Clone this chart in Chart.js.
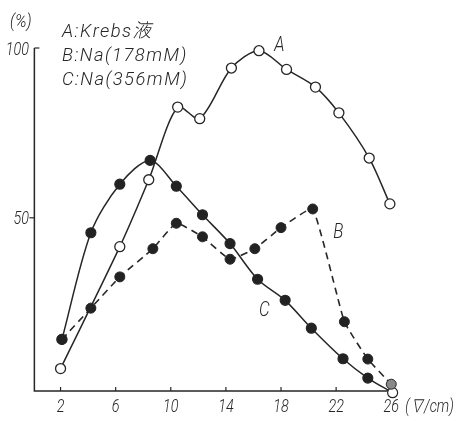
<!DOCTYPE html>
<html>
<head>
<meta charset="utf-8">
<script src="https://cdn.jsdelivr.net/npm/chart.js@4"></script>
<style>
  body { margin: 0; background: #fff; }
  canvas { display: block; }
</style>
</head>
<body>
<canvas id="chart" width="459" height="421"></canvas>
<script>
// A: Krebs, B: Na 178mM, C: Na 356mM
const xA = [2, 6.3, 8.4, 10.5, 12.1, 14.4, 16.4, 18.4, 20.5, 22.2, 24.4, 25.9];
const yA = [5.6, 41.5, 61.2, 82.6, 79.2, 94.1, 99.2, 93.7, 88.5, 80.9, 67.6, 54.1];
const xB = [2.1, 4.2, 6.3, 8.7, 10.4, 12.3, 14.3, 16.1, 18.0, 20.3, 22.6, 24.3, 26.0];
const yB = [14.2, 23.4, 32.6, 40.9, 48.4, 44.4, 37.8, 40.9, 47.1, 52.6, 19.4, 8.4, 1.0];
const xC = [2.1, 4.2, 6.3, 8.5, 10.4, 12.3, 14.3, 16.3, 18.3, 20.2, 22.5, 24.3, 26.1];
const yC = [14.2, 45.6, 59.9, 66.9, 59.3, 50.9, 42.4, 31.9, 25.7, 17.5, 8.5, 2.8, -1.5];
const xTicks = [2, 6, 10, 14, 18, 22, 26];
const yTicks = [50, 100];
const legendLines = ["A:Krebs液", "B:Na(178mM)", "C:Na(356mM)"];

const ink = "#262626";
const fontFam = "Roboto, 'Noto Sans CJK JP', sans-serif";

function pts(xs, ys) {
  return xs.map((x, i) => ({ x: x, y: ys[i] }));
}

// draw text squeezed a bit horizontally, like the printed figure
function txt(ctx, s, x, y, size, align, squeeze, spacing) {
  ctx.save();
  ctx.font = "italic 300 " + size + "px " + fontFam;
  ctx.fillStyle = ink;
  ctx.textBaseline = "middle";
  ctx.textAlign = align || "left";
  if (spacing) ctx.letterSpacing = spacing;
  ctx.translate(x, y);
  ctx.scale(squeeze || 0.85, 1);
  ctx.fillText(s, 0, 0);
  ctx.restore();
}

const axesPlugin = {
  id: "handAxes",
  beforeDatasetsDraw(chart) {
    const ctx = chart.ctx;
    const xs = chart.scales.x, ys = chart.scales.y;
    const x0 = xs.getPixelForValue(0.1);
    const y0 = ys.getPixelForValue(-1);
    ctx.save();
    ctx.strokeStyle = ink;
    ctx.lineWidth = 1.5;
    ctx.beginPath();
    ctx.moveTo(x0, ys.getPixelForValue(100));
    ctx.lineTo(x0, y0);
    ctx.lineTo(xs.getPixelForValue(26), y0);
    ctx.stroke();
    ctx.lineWidth = 1.2;
    xTicks.forEach(v => {
      const px = xs.getPixelForValue(v);
      ctx.beginPath();
      ctx.moveTo(px, y0);
      ctx.lineTo(px, y0 - 4);
      ctx.stroke();
    });
    // 100: tick to the right, 50: tick to the left
    let py = ys.getPixelForValue(100);
    ctx.beginPath();
    ctx.moveTo(x0, py);
    ctx.lineTo(x0 + 5, py);
    ctx.stroke();
    py = ys.getPixelForValue(50);
    ctx.beginPath();
    ctx.moveTo(x0, py);
    ctx.lineTo(x0 - 5, py);
    ctx.stroke();
    ctx.restore();
  },
  afterDraw(chart) {
    const ctx = chart.ctx;
    const xs = chart.scales.x, ys = chart.scales.y;
    const y0 = ys.getPixelForValue(-1);
    xTicks.forEach(v => {
      txt(ctx, String(v), xs.getPixelForValue(v), y0 + 16, 18, "center", 0.8);
    });
    txt(ctx, "(∇/cm)", xs.getPixelForValue(26) + 14, y0 + 16, 18, "left", 0.8);
    yTicks.forEach(v => {
      txt(ctx, String(v), 29, ys.getPixelForValue(v) + 2, 18, "right", 0.8);
    });
    txt(ctx, "(%)", 10, 22, 19, "left", 0.85);
    legendLines.forEach((s, i) => {
      txt(ctx, s, 62, 32 + i * 24, 19, "left", 0.97, "1.5px");
    });
    txt(ctx, "A", xs.getPixelForValue(17.5), ys.getPixelForValue(100.5), 20, "left", 0.85);
    txt(ctx, "B", xs.getPixelForValue(21.8), ys.getPixelForValue(45.5), 20, "left", 0.85);
    txt(ctx, "C", xs.getPixelForValue(16.4), ys.getPixelForValue(22.5), 20, "left", 0.85);
  }
};

const cLast = xC.length - 1;
const bLast = xB.length - 1;

new Chart(document.getElementById("chart"), {
  type: "scatter",
  data: {
    datasets: [
      {
        label: "A",
        data: pts(xA, yA),
        showLine: true,
        tension: 0.3,
        borderColor: ink,
        borderWidth: 1.5,
        pointRadius: 5,
        pointBorderWidth: 1.3,
        pointBackgroundColor: "#fff",
        pointBorderColor: ink
      },
      {
        label: "B",
        data: pts(xB, yB),
        showLine: true,
        tension: 0.12,
        borderColor: ink,
        borderWidth: 1.6,
        borderDash: [7, 5],
        pointRadius: 5,
        pointBorderWidth: 1,
        pointBackgroundColor: yB.map((v, i) => i === bLast ? "#888" : "#222"),
        pointBorderColor: ink
      },
      {
        label: "C",
        data: pts(xC, yC),
        showLine: true,
        tension: 0.3,
        borderColor: ink,
        borderWidth: 1.5,
        pointRadius: 5,
        pointBorderWidth: 1.2,
        pointBackgroundColor: yC.map((v, i) => i === cLast ? "#fff" : "#222"),
        pointBorderColor: ink
      }
    ]
  },
  options: {
    responsive: false,
    animation: false,
    clip: false,
    layout: { padding: { left: 33, right: 65, top: 48, bottom: 30 } },
    plugins: { legend: { display: false }, tooltip: { enabled: false } },
    scales: {
      x: { type: "linear", min: 0, max: 26.2, display: false },
      y: { type: "linear", min: -1, max: 100, display: false }
    }
  },
  plugins: [axesPlugin]
});
</script>
</body>
</html>
